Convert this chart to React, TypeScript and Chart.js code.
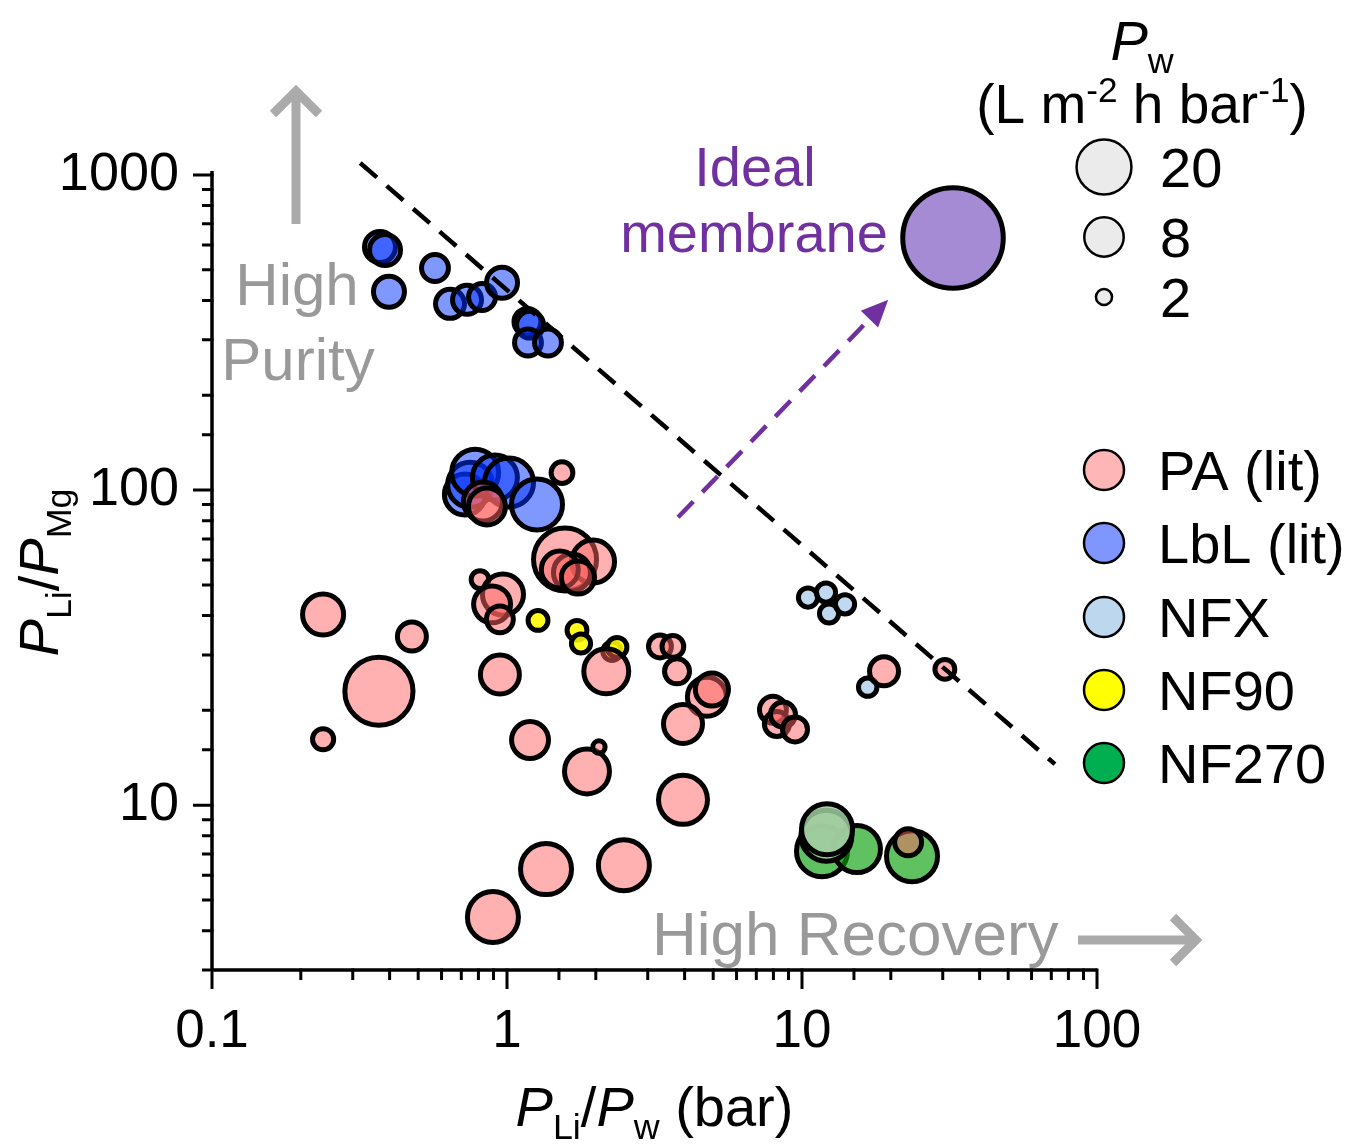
import React, { useEffect, useRef } from 'react';
import { Chart, registerables } from 'chart.js';

Chart.register(...registerables);

// ---------- Data ----------
// PA (literature): x = P_Li/P_w (bar), y = P_Li/P_Mg, pw = water permeance (L m-2 h-1 bar-1)
const PA_X = [0.238, 0.476, 0.368, 0.238, 0.946, 1.197, 1.867, 2.05, 2.17, 3.30, 3.65, 3.77, 4.76, 4.95, 3.95, 7.97, 8.22, 8.62, 9.47, 18.97, 30.5, 3.95, 1.356, 2.49, 0.896, 1.536, 0.829, 0.855, 1.573, 1.957, 1.66, 1.51, 1.74, 0.81, 0.969, 0.89, 0.946, 22.9];
const PA_Y = [40.3, 34.3, 23.0, 16.2, 26.0, 16.1, 12.8, 15.3, 26.6, 31.9, 31.9, 26.6, 22.1, 23.3, 18.1, 20.1, 18.1, 19.4, 17.4, 26.6, 27.0, 10.4, 6.27, 6.45, 4.42, 113.6, 92, 88.7, 60.2, 59.3, 54.8, 56.0, 52.8, 52.0, 46.6, 43.4, 38.9, 7.63];
const PA_PW = [8.8, 4.3, 44, 2.7, 7.8, 6.9, 11.1, 1.6, 11.1, 3.0, 2.8, 3.4, 7.8, 5.5, 7.8, 3.8, 3.4, 3.4, 3.4, 4.3, 2.5, 14.1, 15.9, 15.9, 15.9, 2.8, 7.8, 6.9, 32.4, 9.9, 6.9, 6.9, 5.5, 2.2, 8.8, 6.9, 3.8, 3.8];

// LbL (literature)
const LBL_X = [0.371, 0.386, 0.398, 0.570, 0.641, 0.732, 0.823, 0.962, 1.173, 1.197, 1.178, 1.377, 0.72, 0.75, 0.78, 0.91, 1.016, 1.264];
const LBL_Y = [591, 578, 426, 507, 390, 402, 410, 455, 342, 335, 294, 294, 96.8, 104, 113.6, 109.6, 105.7, 90.0];
const LBL_PW = [4.85, 4.85, 4.85, 3.8, 4.3, 4.3, 3.8, 4.85, 3.8, 3.8, 3.8, 3.8, 8.8, 11.1, 12.5, 11.1, 14.1, 15.9];

// NFX
const NFX_X = [10.48, 12.06, 12.35, 13.99, 16.7];
const NFX_Y = [45.6, 47.3, 40.6, 43.4, 23.7];
const NFX_PW = [2.4, 2.4, 2.4, 2.4, 2.3];

// NF90
const NF90_X = [1.274, 1.727, 1.782, 2.27, 2.36];
const NF90_Y = [38.6, 35.9, 32.6, 30.8, 31.7];
const NF90_PW = [2.5, 2.5, 2.4, 2.3, 2.5];

// NF270
const NF270_X = [11.69, 15.36, 23.6];
const NF270_Y = [7.15, 7.26, 6.89];
const NF270_PW = [15.9, 12.5, 15.9];

// NF270 (second condition, pale overlay)
const NF270B_X = [12.1, 12.16];
const NF270B_Y = [8.0, 8.39];
const NF270B_PW = [15.9, 15.9];

// Ideal membrane
const IDEAL_X = [32.5];
const IDEAL_Y = [631];
const IDEAL_PW = [300];

// Upper-bound dashed line
const BOUND_X = [0.318, 72];
const BOUND_Y = [1092, 13.5];

// Purple "ideal direction" arrow
const ARROW_X = [3.8, 19.6];
const ARROW_Y = [82, 402];

// Axis ranges and labelled ticks
const X_MIN = 0.1;
const X_MAX = 100;
const Y_MIN = 3;
const Y_MAX = 1000;
const X_TICK_LABELS = ['0.1', '1', '10', '100'];
const Y_TICK_LABELS = ['10', '100', '1000'];

// Legends
const SERIES_LABELS = ['PA (lit)', 'LbL (lit)', 'NFX', 'NF90', 'NF270'];
const SIZE_LEGEND_PW = [20, 8, 2];

// ---------- Helpers ----------
const FONT = '"Liberation Sans", Arial, Helvetica, sans-serif';
const rOf = (pw: number) => 2.2 + 19.4 * Math.log10(pw);
const pts = (xs: number[], ys: number[], pw: number[]) =>
  xs.map((x, i) => ({ x, y: ys[i], r: rOf(pw[i]) }));
const isMajor = (v: number) => Math.abs(Math.log10(v) - Math.round(Math.log10(v))) < 1e-6;
const fmt = (v: number) => String(Number(v.toPrecision(6)));

type Part = { t: string; i?: boolean; sub?: boolean; sup?: boolean };

function setFont(ctx: CanvasRenderingContext2D, size: number, italic?: boolean) {
  ctx.font = `${italic ? 'italic ' : ''}${size}px ${FONT}`;
}

function drawRich(ctx: CanvasRenderingContext2D, parts: Part[], x: number, y: number, size: number, align: 'left' | 'center' | 'right') {
  const segs = parts.map((p) => {
    const s = p.sub || p.sup ? size * 0.64 : size;
    setFont(ctx, s, p.i);
    return { ...p, s, w: ctx.measureText(p.t).width };
  });
  const total = segs.reduce((a, b) => a + b.w, 0);
  let cx = align === 'center' ? x - total / 2 : align === 'right' ? x - total : x;
  ctx.textAlign = 'left';
  ctx.textBaseline = 'alphabetic';
  for (const s of segs) {
    setFont(ctx, s.s, s.i);
    const dy = s.sub ? size * 0.24 : s.sup ? -size * 0.38 : 0;
    ctx.fillText(s.t, cx, y + dy);
    cx += s.w;
  }
}

const SERIES_FILL = ['rgba(255,100,100,0.5)', 'rgba(0,50,255,0.5)', 'rgba(130,180,225,0.5)', 'rgba(255,250,0,0.88)', 'rgba(10,160,10,0.65)'];
const LEGEND_FILL = ['#FFB6B6', '#7F96FF', '#BDD7EE', '#FFFF00', '#00B050'];

const overlayPlugin = {
  id: 'overlay',
  afterDraw(chart: any) {
    const { ctx, chartArea: a, scales } = chart;
    const xs = scales.x;
    const ys = scales.y;
    ctx.save();

    // Axes lines
    ctx.strokeStyle = '#000';
    ctx.lineCap = 'butt';
    ctx.lineWidth = 3.5;
    ctx.beginPath();
    ctx.moveTo(a.left, ys.getPixelForValue(Y_MAX) - 4);
    ctx.lineTo(a.left, a.bottom);
    ctx.moveTo(a.left, a.bottom);
    ctx.lineTo(xs.getPixelForValue(X_MAX), a.bottom);
    ctx.stroke();

    // Ticks
    ctx.lineWidth = 3;
    ctx.beginPath();
    for (const t of ys.ticks) {
      const py = ys.getPixelForValue(t.value);
      ctx.moveTo(a.left + 1.5, py);
      ctx.lineTo(a.left - (isMajor(t.value) ? 19 : 10), py);
    }
    for (const t of xs.ticks) {
      const px = xs.getPixelForValue(t.value);
      ctx.moveTo(px, a.bottom - 1.5);
      ctx.lineTo(px, a.bottom + (isMajor(t.value) ? 19 : 10));
    }
    ctx.stroke();

    // Purple dashed arrow
    const p0x = xs.getPixelForValue(ARROW_X[0]);
    const p0y = ys.getPixelForValue(ARROW_Y[0]);
    const p1x = xs.getPixelForValue(ARROW_X[1]);
    const p1y = ys.getPixelForValue(ARROW_Y[1]);
    const ang = Math.atan2(p1y - p0y, p1x - p0x);
    const hl = 27;
    const hw = 12;
    const bx = p1x - hl * Math.cos(ang);
    const by = p1y - hl * Math.sin(ang);
    ctx.strokeStyle = '#7030A0';
    ctx.fillStyle = '#7030A0';
    ctx.lineWidth = 4.5;
    ctx.setLineDash([22, 13]);
    ctx.beginPath();
    ctx.moveTo(p0x, p0y);
    ctx.lineTo(bx, by);
    ctx.stroke();
    ctx.setLineDash([]);
    ctx.beginPath();
    ctx.moveTo(p1x, p1y);
    ctx.lineTo(bx + hw * Math.sin(ang), by - hw * Math.cos(ang));
    ctx.lineTo(bx - hw * Math.sin(ang), by + hw * Math.cos(ang));
    ctx.closePath();
    ctx.fill();

    // Grey annotation arrows
    ctx.strokeStyle = '#AAAAAA';
    ctx.lineWidth = 9;
    ctx.lineJoin = 'miter';
    ctx.beginPath();
    ctx.moveTo(296, 224);
    ctx.lineTo(296, 93);
    ctx.moveTo(273, 114);
    ctx.lineTo(296, 91);
    ctx.lineTo(319, 114);
    ctx.stroke();
    ctx.beginPath();
    ctx.moveTo(1078, 940);
    ctx.lineTo(1194, 940);
    ctx.moveTo(1173, 917);
    ctx.lineTo(1196, 940);
    ctx.lineTo(1173, 963);
    ctx.stroke();

    // Grey annotation text
    ctx.fillStyle = '#999999';
    setFont(ctx, 60);
    ctx.textAlign = 'center';
    ctx.textBaseline = 'alphabetic';
    ctx.fillText('High', 297, 305);
    ctx.fillText('Purity', 298, 380);
    setFont(ctx, 62);
    ctx.textAlign = 'left';
    ctx.fillText('High Recovery', 652, 955);

    // Ideal membrane text
    ctx.fillStyle = '#7030A0';
    setFont(ctx, 56);
    ctx.textAlign = 'center';
    ctx.fillText('Ideal', 755, 186);
    ctx.fillText('membrane', 754, 252);

    // Axis titles
    ctx.fillStyle = '#000';
    drawRich(ctx, [{ t: 'P', i: true }, { t: 'Li', sub: true }, { t: '/' }, { t: 'P', i: true }, { t: 'w', sub: true }, { t: ' (bar)' }], (a.left + a.right) / 2, 1126, 56, 'center');
    ctx.save();
    ctx.translate(58, (a.top + a.bottom) / 2);
    ctx.rotate(-Math.PI / 2);
    drawRich(ctx, [{ t: 'P', i: true }, { t: 'Li', sub: true }, { t: '/' }, { t: 'P', i: true }, { t: 'Mg', sub: true }], 0, 0, 56, 'center');
    ctx.restore();

    // Size legend
    drawRich(ctx, [{ t: 'P', i: true }, { t: 'w', sub: true }], 1142, 60, 56, 'center');
    drawRich(ctx, [{ t: '(L m' }, { t: '-2', sup: true }, { t: ' h bar' }, { t: '-1', sup: true }, { t: ')' }], 1142, 123, 55, 'center');
    const sizeY = [167, 237, 297];
    SIZE_LEGEND_PW.forEach((pw, i) => {
      ctx.beginPath();
      ctx.arc(1104, sizeY[i], rOf(pw), 0, Math.PI * 2);
      ctx.fillStyle = '#EBEBEB';
      ctx.fill();
      ctx.lineWidth = 2.5;
      ctx.strokeStyle = '#000';
      ctx.stroke();
      ctx.fillStyle = '#000';
      setFont(ctx, 56);
      ctx.textAlign = 'left';
      ctx.textBaseline = 'alphabetic';
      ctx.fillText(String(pw), 1160, sizeY[i] + 20);
    });

    // Series legend
    const legY = [470, 543, 617, 690, 763];
    SERIES_LABELS.forEach((lab, i) => {
      ctx.beginPath();
      ctx.arc(1104, legY[i], 20, 0, Math.PI * 2);
      ctx.fillStyle = LEGEND_FILL[i];
      ctx.fill();
      ctx.lineWidth = 2.5;
      ctx.strokeStyle = '#000';
      ctx.stroke();
      ctx.fillStyle = '#000';
      setFont(ctx, 56);
      ctx.textAlign = 'left';
      ctx.fillText(lab, 1158, legY[i] + 20);
    });

    ctx.restore();
  },
};

export default function App() {
  const ref = useRef<HTMLCanvasElement | null>(null);

  useEffect(() => {
    document.body.style.margin = '0';
    document.body.style.overflow = 'hidden';
    const canvas = ref.current;
    if (!canvas) return;
    Chart.defaults.font.family = FONT;

    const bubble = (label: string, data: any[], fill: string, order: number) => ({
      type: 'bubble' as const,
      label,
      data,
      backgroundColor: fill,
      borderColor: '#000',
      borderWidth: 5,
      hoverBorderWidth: 5,
      hoverRadius: 0,
      clip: false as any,
      order,
    });

    const chart = new Chart(canvas, {
      type: 'bubble',
      data: {
        datasets: [
          {
            type: 'line' as any,
            label: 'bound',
            data: BOUND_X.map((x, i) => ({ x, y: BOUND_Y[i] })),
            borderColor: '#000',
            borderWidth: 4.5,
            borderDash: [22, 13],
            pointRadius: 0,
            fill: false,
            tension: 0,
            clip: false as any,
            order: 0,
          } as any,
          bubble('Ideal', pts(IDEAL_X, IDEAL_Y, IDEAL_PW), '#A58BD3', 1),
          bubble(SERIES_LABELS[0], pts(PA_X, PA_Y, PA_PW), SERIES_FILL[0], 2),
          bubble('NF270b', pts(NF270B_X, NF270B_Y, NF270B_PW), 'rgba(160,205,160,0.85)', 3),
          bubble(SERIES_LABELS[1], pts(LBL_X, LBL_Y, LBL_PW), SERIES_FILL[1], 4),
          bubble(SERIES_LABELS[2], pts(NFX_X, NFX_Y, NFX_PW), SERIES_FILL[2], 5),
          bubble(SERIES_LABELS[3], pts(NF90_X, NF90_Y, NF90_PW), SERIES_FILL[3], 6),
          bubble(SERIES_LABELS[4], pts(NF270_X, NF270_Y, NF270_PW), SERIES_FILL[4], 7),
        ],
      },
      options: {
        responsive: false,
        animation: false,
        events: [],
        layout: { padding: { left: 0, right: 265, top: 175, bottom: 0 } },
        plugins: { legend: { display: false }, tooltip: { enabled: false } },
        scales: {
          x: {
            type: 'logarithmic',
            position: 'bottom',
            min: X_MIN,
            max: X_MAX,
            afterFit: (s: any) => { s.height = 174; },
            grid: { display: true, drawOnChartArea: false, drawTicks: true, tickLength: 19, color: 'rgba(0,0,0,0)' },
            border: { display: false },
            ticks: {
              autoSkip: false,
              maxRotation: 0,
              padding: 12,
              color: '#000',
              font: { size: 53, family: FONT },
              callback: (v: any) => (isMajor(+v) && X_TICK_LABELS.includes(fmt(+v)) ? fmt(+v) : ''),
            },
          },
          y: {
            type: 'logarithmic',
            position: 'left',
            min: Y_MIN,
            max: Y_MAX,
            afterFit: (s: any) => { s.width = 212; },
            grid: { display: true, drawOnChartArea: false, drawTicks: true, tickLength: 19, color: 'rgba(0,0,0,0)' },
            border: { display: false },
            ticks: {
              autoSkip: false,
              padding: 14,
              color: '#000',
              font: { size: 54, family: FONT },
              callback: (v: any) => (isMajor(+v) && Y_TICK_LABELS.includes(fmt(+v)) ? fmt(+v) : ''),
            },
          },
        },
      },
      plugins: [overlayPlugin],
    } as any);

    return () => chart.destroy();
  }, []);

  return (
    <canvas
      ref={ref}
      width={1362}
      height={1144}
      style={{ position: 'absolute', left: 0, top: 0, width: 1362, height: 1144, display: 'block' }}
    />
  );
}
